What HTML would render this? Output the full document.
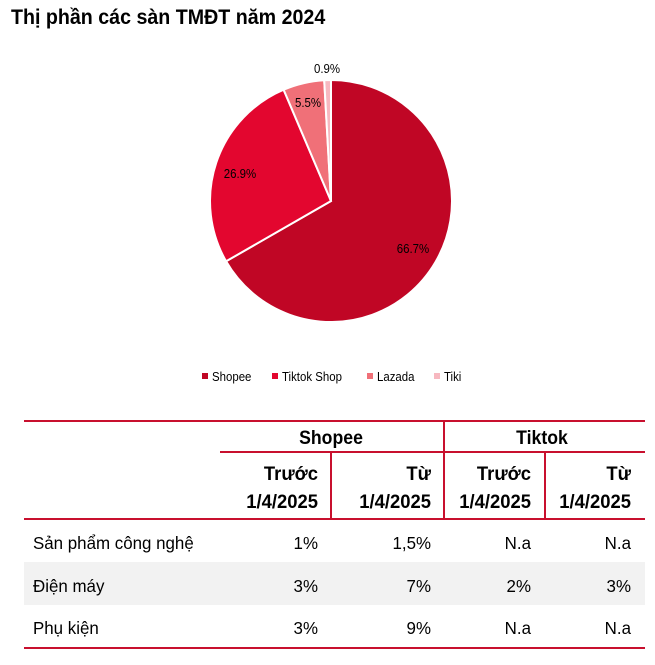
<!DOCTYPE html>
<html><head><meta charset="utf-8"><style>
body{margin:0;width:655px;height:665px;background:#fff;font-family:"Liberation Sans",sans-serif;position:relative;overflow:hidden}
.t{position:absolute;white-space:nowrap}
</style></head><body>
<div class="t" style="left:11px;top:6px;font-size:21px;font-weight:bold;color:#000;transform:scaleX(0.935);transform-origin:left top">Thị phần các sàn TMĐT năm 2024</div>
<svg width="655" height="665" style="position:absolute;left:0;top:0" font-family="Liberation Sans, sans-serif">
<g stroke="#fff" stroke-width="2">
<path d="M331,201 L331,80 A121,121 0 1,1 226.1,261.3 Z" fill="#C00625"/>
<path d="M331,201 L226.1,261.3 A121,121 0 0,1 283.6,89.7 Z" fill="#E3062F"/>
<path d="M331,201 L283.6,89.7 A121,121 0 0,1 324.2,80.2 Z" fill="#F07078"/>
<path d="M331,201 L324.2,80.2 A121,121 0 0,1 331,80 Z" fill="#F7B8C0"/>
</g>
<g font-size="13" fill="#000" text-anchor="middle">
<g transform="translate(413,253) scale(.88,1)"><text>66.7%</text></g>
<g transform="translate(240,178) scale(.88,1)"><text>26.9%</text></g>
<g transform="translate(308,107) scale(.88,1)"><text>5.5%</text></g>
<g transform="translate(327,73) scale(.88,1)"><text>0.9%</text></g>
</g>
<g font-size="13" fill="#000">
<rect x="202" y="373" width="6" height="6" fill="#C00625"/><g transform="translate(212,381) scale(.88,1)"><text>Shopee</text></g>
<rect x="272" y="373" width="6" height="6" fill="#E3062F"/><g transform="translate(282,381) scale(.88,1)"><text>Tiktok Shop</text></g>
<rect x="367" y="373" width="6" height="6" fill="#F07078"/><g transform="translate(377,381) scale(.88,1)"><text>Lazada</text></g>
<rect x="434" y="373" width="6" height="6" fill="#F7B8C0"/><g transform="translate(444,381) scale(.88,1)"><text>Tiki</text></g>
</g>
<rect x="24" y="562" width="621" height="43" fill="#f2f2f2"/>
<g stroke="#C8102E" stroke-width="2">
<line x1="24" y1="421" x2="645" y2="421"/>
<line x1="220" y1="452" x2="645" y2="452"/>
<line x1="24" y1="519" x2="645" y2="519"/>
<line x1="24" y1="648" x2="645" y2="648"/>
<line x1="444" y1="421" x2="444" y2="519"/>
<line x1="331" y1="452" x2="331" y2="519"/>
<line x1="545" y1="452" x2="545" y2="519"/>
</g>
<g font-size="19" font-weight="bold" fill="#000" text-anchor="middle">
<g transform="translate(331,444) scale(.93,1)"><text>Shopee</text></g>
<g transform="translate(542,444) scale(.93,1)"><text>Tiktok</text></g>
</g>
<g font-size="19" font-weight="bold" fill="#000" text-anchor="end">
<g transform="translate(318,480) scale(.97,1)"><text>Trước</text></g><g transform="translate(318,508) scale(.97,1)"><text>1/4/2025</text></g>
<g transform="translate(431,480) scale(.97,1)"><text>Từ</text></g><g transform="translate(431,508) scale(.97,1)"><text>1/4/2025</text></g>
<g transform="translate(531,480) scale(.97,1)"><text>Trước</text></g><g transform="translate(531,508) scale(.97,1)"><text>1/4/2025</text></g>
<g transform="translate(631,480) scale(.97,1)"><text>Từ</text></g><g transform="translate(631,508) scale(.97,1)"><text>1/4/2025</text></g>
</g>
<g font-size="18" fill="#000">
<g transform="translate(33,549) scale(.94,1)"><text>Sản phẩm công nghệ</text></g>
<g transform="translate(33,592) scale(.94,1)"><text>Điện máy</text></g>
<g transform="translate(33,634) scale(.94,1)"><text>Phụ kiện</text></g>
</g>
<g font-size="18" fill="#000" text-anchor="end">
<g transform="translate(318,549) scale(.94,1)"><text>1%</text></g><g transform="translate(431,549) scale(.94,1)"><text>1,5%</text></g><g transform="translate(531,549) scale(.94,1)"><text>N.a</text></g><g transform="translate(631,549) scale(.94,1)"><text>N.a</text></g>
<g transform="translate(318,592) scale(.94,1)"><text>3%</text></g><g transform="translate(431,592) scale(.94,1)"><text>7%</text></g><g transform="translate(531,592) scale(.94,1)"><text>2%</text></g><g transform="translate(631,592) scale(.94,1)"><text>3%</text></g>
<g transform="translate(318,634) scale(.94,1)"><text>3%</text></g><g transform="translate(431,634) scale(.94,1)"><text>9%</text></g><g transform="translate(531,634) scale(.94,1)"><text>N.a</text></g><g transform="translate(631,634) scale(.94,1)"><text>N.a</text></g>
</g>
</svg>
</body></html>
